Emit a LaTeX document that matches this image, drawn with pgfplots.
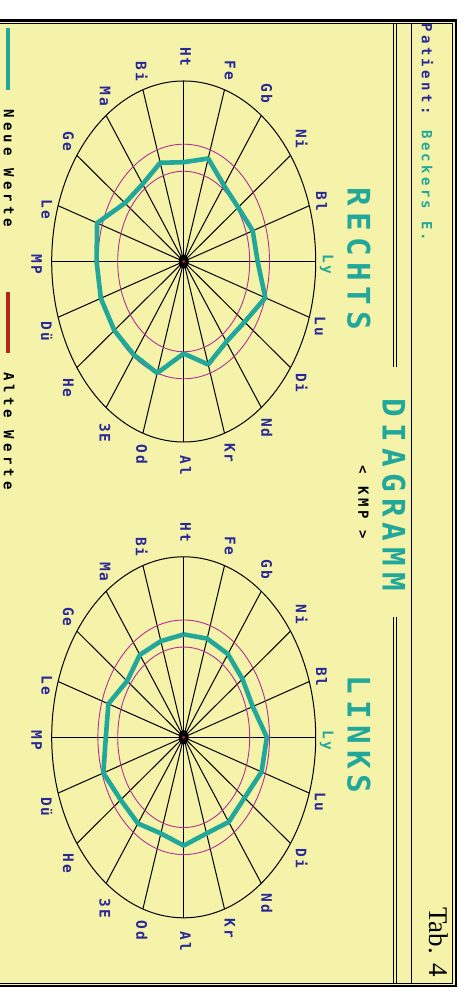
\documentclass[border=0pt]{standalone}
\usepackage{fontspec}
\setmainfont{Liberation Serif}
\newfontfamily\lblfont[LetterSpace=12]{DejaVu Sans Mono}
\newfontfamily\legfont[LetterSpace=30]{DejaVu Sans Mono}
\newfontfamily\patfont[LetterSpace=24]{DejaVu Sans Mono}
\newfontfamily\kmpfont[LetterSpace=26]{DejaVu Sans Mono}
\newfontfamily\titfont[LetterSpace=20]{DejaVu Sans Mono}
\usepackage{pgfplots}
\pgfplotsset{compat=1.18}
\definecolor{bg}{RGB}{245,242,170}
\definecolor{tealc}{RGB}{34,168,154}
\definecolor{navy}{RGB}{40,40,150}
\definecolor{mag}{RGB}{176,50,150}
\definecolor{redc}{RGB}{178,40,30}

\newcommand{\lbl}[3]{\node[rotate=-90,inner sep=0pt,text=#3] at (#1) {\lblfont\bfseries\fontsize{14.5}{15}\selectfont #2};}
\newcommand{\diagframe}[2]{%
\begin{scope}[shift={(#1,#2)}]
  \foreach \a in {0,18,...,342} \draw[black,line width=1pt] (0,0) -- ({132*cos(\a)},{180.5*sin(\a)});
  \draw[black,line width=1pt] (0,0) ellipse [x radius=132pt, y radius=180.5pt];
  \draw[mag,line width=0.9pt] (0,0) ellipse [x radius=66pt, y radius=90.25pt];
  \draw[mag,line width=0.9pt] (0,0) ellipse [x radius=85.8pt, y radius=117.3pt];
  \fill[black] (0,0) ellipse [x radius=5pt, y radius=7pt];
  \lbl{2,204.7}{Ht}{navy}
  \lbl{46.3,191.3}{Fe}{navy}
  \lbl{83,168}{Gb}{navy}
  \lbl{118,122.7}{Ni}{navy}
  \lbl{138,60.3}{Bl}{navy}
  \lbl{143,-3}{Ly}{tealc}
  \lbl{136.3,-64.7}{Lu}{navy}
  \lbl{118,-121.3}{Di}{navy}
  \lbl{83,-166.3}{Nd}{navy}
  \lbl{46.3,-191.3}{Kr}{navy}
  \lbl{2,-204}{Al}{navy}
  \lbl{-42,-193}{Od}{navy}
  \lbl{-78.7,-171.3}{3E}{navy}
  \lbl{-115.4,-126.3}{He}{navy}
  \lbl{-137,-69.7}{Dü}{navy}
  \lbl{-147,-3}{MP}{navy}
  \lbl{-137,52}{Le}{navy}
  \lbl{-115.4,120.3}{Ge}{navy}
  \lbl{-78.7,165.3}{Ma}{navy}
  \lbl{-42,190.3}{Bi}{navy}
\end{scope}}

\begin{document}
\begin{tikzpicture}[x=1pt,y=1pt]
\path[use as bounding box,fill=white] (0,0) rectangle (465,998);
\fill[bg] (-5,12) rectangle (456,977.5);
% frames
\draw[black,line width=2.4pt] (-5,12) rectangle (456,977.5);
\draw[black,line width=0.8pt] (-5,14.5) rectangle (452.5,974.5);
\draw[black,line width=0.8pt] (393.5,14.5) -- (393.5,381) (396.5,14.5) -- (396.5,381);
\draw[black,line width=0.8pt] (393.5,631) -- (393.5,974.5) (396.5,631) -- (396.5,974.5);
\draw[black,line width=1pt] (411.5,14.5) -- (411.5,974.5);
% legend
\draw[tealc,line width=4pt] (8.3,970) -- (8.3,908);
\draw[redc,line width=4pt] (8.3,706) -- (8.3,645);
\node[rotate=-90,inner sep=0pt] at (9,829.5) {\legfont\bfseries\fontsize{14}{15}\selectfont Neue Werte};
\node[rotate=-90,inner sep=0pt] at (9,567) {\legfont\bfseries\fontsize{14}{15}\selectfont Alte Werte};
% header texts
\node[rotate=-90,inner sep=0pt] at (427.5,865.5) {\patfont\bfseries\fontsize{14}{15}\selectfont\textcolor{navy}{Patient:} \textcolor{tealc}{Beckers E.}};
\node[rotate=-90,inner sep=0pt,text=tealc] at (359,739) {\titfont\bfseries\fontsize{31}{32}\selectfont RECHTS};
\node[rotate=-90,inner sep=0pt,text=tealc] at (359,263.5) {\titfont\bfseries\fontsize{31}{32}\selectfont LINKS};
\node[rotate=-90,inner sep=0pt,text=tealc] at (394,503) {\titfont\bfseries\fontsize{31}{32}\selectfont DIAGRAMM};
\node[rotate=-90,inner sep=0pt] at (363.5,495.5) {\kmpfont\bfseries\fontsize{14}{15}\selectfont < KMP >};
\node[rotate=-90,inner sep=0pt] at (439,56) {\fontsize{27}{30}\selectfont Tab. 4};
% diagram frames
\diagframe{183.7}{736.5}
\diagframe{183.7}{260.7}
% data: RECHTS
\begin{axis}[at={(183.7pt,736.5pt)},anchor=center,scale only axis,width=264pt,height=361pt,
  xmin=-1,xmax=1,ymin=-1,ymax=1,hide axis,clip=false]
\addplot[tealc,line width=4.6pt,line join=round,data cs=polar] coordinates {
(90,0.55) (72,0.60) (54,0.52) (36,0.51) (18,0.55) (0,0.56) (-18,0.65) (-36,0.57) (-54,0.55) (-72,0.60)
(-90,0.51) (-108,0.65) (-126,0.64) (-144,0.65) (-162,0.66) (-180,0.66) (-198,0.69) (-216,0.55) (-234,0.53) (-252,0.575) (-270,0.55)};
\addplot[redc,only marks,mark=*,mark size=1.3pt] coordinates {(0,0)};
\end{axis}
% data: LINKS
\begin{axis}[at={(183.7pt,260.7pt)},anchor=center,scale only axis,width=264pt,height=361pt,
  xmin=-1,xmax=1,ymin=-1,ymax=1,hide axis,clip=false]
\addplot[tealc,line width=4.6pt,line join=round,data cs=polar] coordinates {
(90,0.57) (72,0.575) (54,0.57) (36,0.55) (18,0.55) (0,0.63) (-18,0.62) (-36,0.57) (-54,0.58) (-72,0.56)
(-90,0.60) (-108,0.56) (-126,0.59) (-144,0.59) (-162,0.64) (-180,0.59) (-198,0.60) (-216,0.53) (-234,0.565) (-252,0.56) (-270,0.57)};
\addplot[redc,only marks,mark=*,mark size=1.3pt] coordinates {(0,0)};
\end{axis}
\end{tikzpicture}
\end{document}
